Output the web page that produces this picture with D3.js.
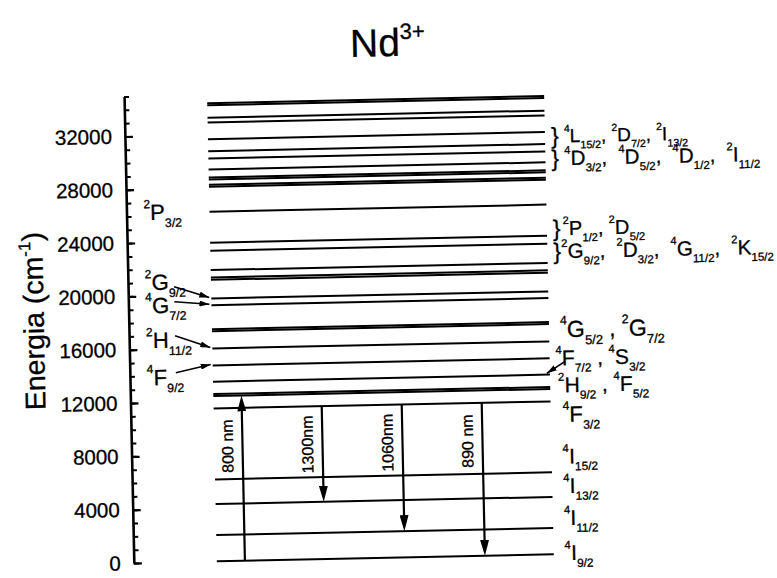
<!DOCTYPE html>
<html>
<head>
<meta charset="utf-8">
<script src="https://cdn.jsdelivr.net/npm/d3@7"></script>
<style>
  html, body { margin: 0; padding: 0; background: #fff; }
  svg { display: block; font-family: "Liberation Sans", Arial, Helvetica, sans-serif; }
  text { white-space: pre; stroke: #000; stroke-width: 0.3px; }
</style>
</head>
<body>
<svg id="chart" width="777" height="578"></svg>
<script>
// Nd3+ Stark-averaged energy levels (cm^-1); closely spaced pairs draw as one heavy band
const levelEnergies = [34370, 34220, 33280, 32920, 31670, 30770, 30220, 29400,
  28800, 28650, 28250, 28100, 26230, 23900, 23300, 21850, 21300, 21120,
  19720, 19220, 17420, 17270, 15970, 14700, 13480, 12550, 12400, 11470,
  6150, 4300, 1970, 0];

// energy axis ticks
const majorTicks = [0, 4000, 8000, 12000, 16000, 20000, 24000, 28000, 32000];
const minorTicks = d3.range(0, 35001, 1000);

// pump and laser transitions (cm^-1)
const transitionLabels = ["800 nm", "1300nm", "1060nm", "890 nm"];
const transitionFrom = [0, 11470, 11470, 11470];
const transitionTo = [12400, 4300, 1970, 0];

// term symbols left of the diagram, with the level each arrow points to
const leftTerms = ["^{2}P_{3/2}", "^{2}G_{9/2}", "^{4}G_{7/2}", "^{2}H_{11/2}", "^{4}F_{9/2}"];
const leftTermEnergy = [25690, 20440, 18710, 16090, 13310];
const leftTermTarget = [null, 19720, 19220, 15970, 14700];

// term symbols right of the diagram
const rightTerms = [
  "^{4}L_{15/2}, ^{2}D_{7/2}, ^{2}I_{13/2}",
  "^{4}D_{3/2},  ^{4}D_{5/2},  ^{4}D_{1/2},  ^{2}I_{11/2}",
  "^{2}P_{1/2}, ^{2}D_{5/2}",
  "^{2}G_{9/2},  ^{2}D_{3/2},  ^{4}G_{11/2},  ^{2}K_{15/2}",
  "^{4}G_{5/2} , ^{2}G_{7/2}",
  "^{4}F_{7/2} , ^{4}S_{3/2}",
  "^{2}H_{9/2} , ^{4}F_{5/2}",
  "^{4}F_{3/2}",
  "^{4}I_{15/2}",
  "^{4}I_{13/2}",
  "^{4}I_{11/2}",
  "^{4}I_{9/2}"
];
const rightTermEnergy = [30870, 29170, 23920, 22190, 16270, 14170, 12140, 9910, 6790, 4570, 2170, -460];
const rightTermGrouped = [true, true, true, true, false, false, false, false, false, false, false, false];
const rightTermTarget = [null, null, null, null, null, 13480, null, null, null, null, null, null];

// ---- layout ----
const axisX = 129, lineX0 = 212, lineX1 = 549;
const rightTermX = [568, 568, 565, 563, 560, 555, 557, 561, 560, 560, 560, 560];
const rightTermSize = [19, 20.5, 20, 20.5, 23, 21, 21, 22, 21, 21, 21, 21];
const leftTermX = 146, leftTermSize = 22;
const leftArrowRise = [0, 3, 11, 12, 12];

const svg = d3.select("#chart");
const defs = svg.append("defs");

function head(id, len, wid) {
  defs.append("marker")
    .attr("id", id)
    .attr("viewBox", `0 0 ${len} ${wid}`)
    .attr("refX", len).attr("refY", wid / 2)
    .attr("markerWidth", len).attr("markerHeight", wid)
    .attr("markerUnits", "userSpaceOnUse")
    .attr("orient", "auto")
    .append("path")
    .attr("d", `M0,0L${len},${wid / 2}L0,${wid}Z`)
    .attr("fill", "#000");
}
head("bigHead", 16, 9);
head("smallHead", 10, 6);

// the whole sheet sits slightly tilted
const root = svg.append("g").attr("transform", "rotate(-1.2, 375, 330)");

const y = d3.scaleLinear().domain([0, 35000]).range([558, 91.3]);

// rich text with ^{sup} and _{sub} runs
function richText(sel, spec, fs) {
  const re = /\^\{([^}]*)\}|_\{([^}]*)\}|([^^_]+)/g;
  let m, shift = 0;
  while ((m = re.exec(spec))) {
    let target, size, txt;
    if (m[1] !== undefined) { target = -0.55 * fs; size = fs * 0.54; txt = m[1]; }
    else if (m[2] !== undefined) { target = 0.33 * fs; size = fs * 0.56; txt = m[2]; }
    else { target = 0; size = fs; txt = m[3]; }
    sel.append("tspan")
      .attr("dy", (target - shift).toFixed(2))
      .style("font-size", size.toFixed(1) + "px")
      .text(txt);
    shift = target;
  }
}

// ---- title ----
const title = root.append("text").attr("x", 356).attr("y", 56.5)
  .attr("fill", "#000").style("font-size", "39px");
title.append("tspan").text("Nd");
title.append("tspan").attr("dy", -17).style("font-size", "22px").text("3+");

// ---- energy axis ----
const minorAxis = d3.axisLeft(y).tickValues(minorTicks)
  .tickSizeInner(-5).tickSizeOuter(0).tickFormat("");
const gMinor = root.append("g").attr("transform", `translate(${axisX},0)`).call(minorAxis);
gMinor.select(".domain").remove();
gMinor.selectAll(".tick line").attr("stroke", "#000").attr("stroke-width", 2);

const majorAxis = d3.axisLeft(y).tickValues(majorTicks)
  .tickSizeInner(-8).tickSizeOuter(0).tickPadding(13).tickFormat(d3.format("d"));
const gMajor = root.append("g").attr("transform", `translate(${axisX},0)`).call(majorAxis);
gMajor.select(".domain").attr("stroke", "#000").attr("stroke-width", 2.6);
gMajor.selectAll(".tick line").attr("stroke", "#000").attr("stroke-width", 2.2);
gMajor.selectAll(".tick text")
  .attr("fill", "#000")
  .style("font-size", "20.5px")
  .style("font-family", "'Liberation Sans', Arial, sans-serif");

const yTitle = root.append("text")
  .attr("transform", "translate(44,314) rotate(-90)")
  .attr("text-anchor", "middle").attr("fill", "#000")
  .style("font-size", "28.5px");
yTitle.append("tspan").text("Energia (cm");
yTitle.append("tspan").attr("dy", -12).style("font-size", "17px").text("-1");
yTitle.append("tspan").attr("dy", 12).text(")");

// ---- energy levels ----
root.append("g").selectAll("line").data(levelEnergies).join("line")
  .attr("x1", lineX0).attr("x2", lineX1)
  .attr("y1", d => y(d)).attr("y2", d => y(d))
  .attr("stroke", "#000").attr("stroke-width", 2);

// ---- transitions ----
const tx = d3.scalePoint().domain(transitionLabels).range([lineX0, lineX1])
  .padding(0.606).align(0.29);
const labelEnergy = 8620;
const gT = root.append("g");
transitionLabels.forEach((lab, i) => {
  const x = tx(lab);
  const y0 = y(transitionFrom[i]), y1 = y(transitionTo[i]);
  const dir = y1 < y0 ? -1 : 1;
  gT.append("line")
    .attr("x1", x).attr("x2", x)
    .attr("y1", y0).attr("y2", y1 - dir * 6)
    .attr("stroke", "#000").attr("stroke-width", 2.2);
  gT.append("line")
    .attr("x1", x).attr("x2", x)
    .attr("y1", y1 - dir * 8).attr("y2", y1)
    .attr("stroke", "none")
    .attr("marker-end", "url(#bigHead)");
  gT.append("text")
    .attr("transform", `translate(${x - 9.5},${y(labelEnergy)}) rotate(-90)`)
    .attr("text-anchor", "middle").attr("fill", "#000")
    .style("font-size", "16px")
    .text(lab);
});

// ---- left term symbols ----
const gL = root.append("g");
leftTerms.forEach((spec, i) => {
  const by = y(leftTermEnergy[i]);
  const t = gL.append("text").attr("x", leftTermX).attr("y", by).attr("fill", "#000");
  richText(t, spec, leftTermSize);
  if (leftTermTarget[i] !== null) {
    gL.append("line")
      .attr("x1", leftTermX + 29).attr("y1", by - leftArrowRise[i])
      .attr("x2", lineX0 - 2).attr("y2", y(leftTermTarget[i]) - 1)
      .attr("stroke", "#000").attr("stroke-width", 1.6)
      .attr("marker-end", "url(#smallHead)");
  }
});

// ---- right term symbols ----
const gR = root.append("g");
rightTerms.forEach((spec, i) => {
  const by = y(rightTermEnergy[i]);
  const x = rightTermX[i];
  if (rightTermGrouped[i]) {
    gR.append("text").attr("x", 555).attr("y", by + 1)
      .attr("fill", "#000").style("font-size", "23px").text("}");
  }
  const t = gR.append("text").attr("x", x).attr("y", by).attr("fill", "#000");
  richText(t, spec, rightTermSize[i]);
  if (rightTermTarget[i] !== null) {
    gR.append("line")
      .attr("x1", x + 9).attr("y1", by - 3.5)
      .attr("x2", lineX1 - 3).attr("y2", y(rightTermTarget[i]) - 1.4)
      .attr("stroke", "#000").attr("stroke-width", 1.6)
      .attr("marker-end", "url(#smallHead)");
  }
});
</script>
</body>
</html>
